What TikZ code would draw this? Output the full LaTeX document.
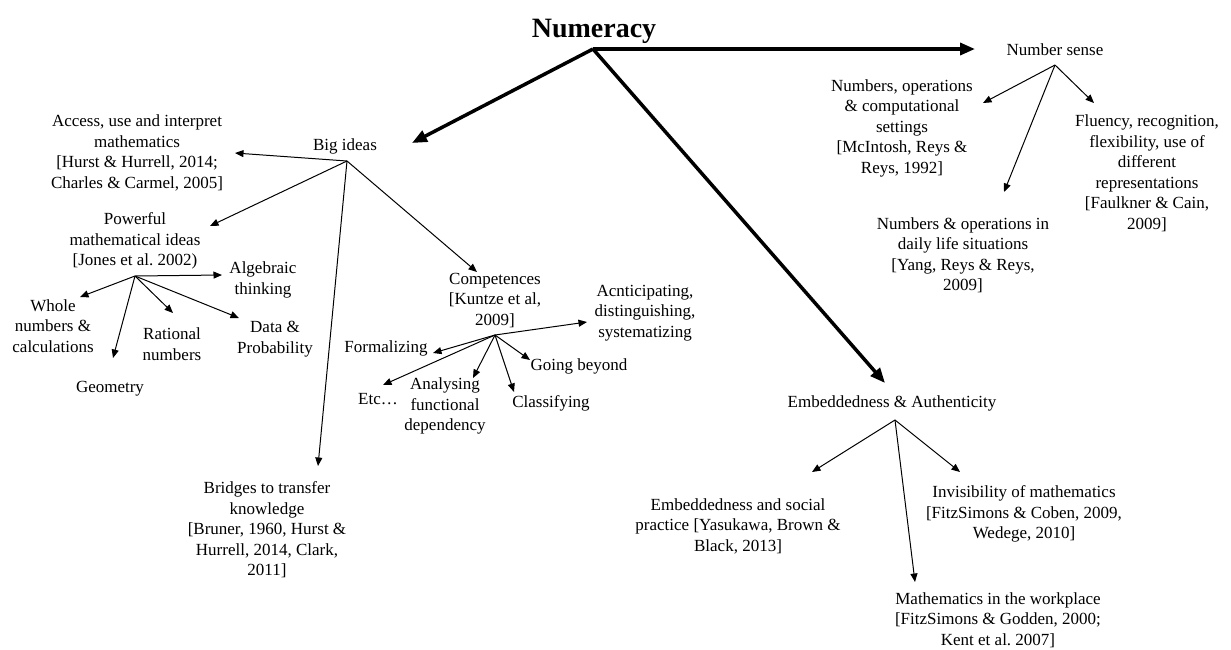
\documentclass[tikz,border=0pt]{standalone}
\usepackage{fontspec}
\setmainfont{Liberation Serif}
\usetikzlibrary{arrows.meta}
\tikzset{
  lbl/.style={font=\fontsize{17}{20.5}\selectfont\frenchspacing, align=center, inner sep=0pt},
  title/.style={font=\fontsize{28}{32}\selectfont\bfseries, inner sep=0pt},
  thinarrow/.style={line width=1pt, -{Triangle[length=8.5pt,width=7pt]}},
  thickarrow/.style={line width=3.5pt, -{Triangle[length=15pt,width=12pt]}}
}
\begin{document}
\begin{tikzpicture}[x=1pt,y=-1pt]
\useasboundingbox (0,0) rectangle (1231,649);
% nodes
\node[title] (numeracy) at (594,31) {Numeracy};
\node[lbl] (bigideas) at (345,146) {Big ideas};
\node[lbl] (access) at (137,153) {Access, use and interpret\\ mathematics\\ {[}Hurst \& Hurrell, 2014;\\ Charles \& Carmel, 2005]};
\node[lbl] (powerful) at (135,241) {Powerful\\ mathematical ideas\\ {[}Jones et al. 2002)};
\node[lbl] (algebraic) at (263,280) {Algebraic\\ thinking};
\node[lbl] (whole) at (53,326) {Whole\\ numbers \&\\ calculations};
\node[lbl] (rational) at (172,344) {Rational\\ numbers};
\node[lbl] (data) at (275,339) {Data \&\\ Probability};
\node[lbl] (geometry) at (110,389) {Geometry};
\node[lbl] (bridges) at (267,530) {Bridges to transfer\\ knowledge\\ {[}Bruner, 1960, Hurst \&\\ Hurrell, 2014, Clark,\\ 2011]};
\node[lbl] (comp) at (495,300) {Competences\\ {[}Kuntze et al,\\ 2009]};
\node[lbl] (antic) at (645,313) {Acnticipating,\\ distinguishing,\\ systematizing};
\node[lbl] (formal) at (386,348) {Formalizing};
\node[lbl] (etc) at (378,399) {Etc…};
\node[lbl] (analys) at (445,406) {Analysing\\ functional\\ dependency};
\node[lbl] (classif) at (551,403) {Classifying};
\node[lbl] (going) at (579,366) {Going beyond};
\node[lbl] (numsense) at (1055,50) {Number sense};
\node[lbl] (nocs) at (902,128) {Numbers, operations\\ \& computational\\ settings\\ {[}McIntosh, Reys \&\\ Reys, 1992]};
\node[lbl] (fluency) at (1147,173) {Fluency, recognition,\\ flexibility, use of\\ different\\ representations\\ {[}Faulkner \& Cain,\\ 2009]};
\node[lbl] (daily) at (963,255) {Numbers \& operations in\\ daily life situations\\ {[}Yang, Reys \& Reys,\\ 2009]};
\node[lbl] (emb) at (892,403) {Embeddedness \& Authenticity};
\node[lbl] (social) at (738,526) {Embeddedness and social\\ practice [Yasukawa, Brown \&\\ Black, 2013]};
\node[lbl] (invis) at (1024,514) {Invisibility of mathematics\\ {[}FitzSimons \& Coben, 2009,\\ Wedege, 2010]};
\node[lbl] (work) at (998,620) {Mathematics in the workplace\\ {[}FitzSimons \& Godden, 2000;\\ Kent et al. 2007]};
% fan origins
\coordinate (o0) at (593,49);
\coordinate (o1) at (347,161);
\coordinate (o2) at (135,276);
\coordinate (o3) at (495,335);
\coordinate (o4) at (1055,65);
\coordinate (o5) at (895,420);
% arrow tips
\coordinate (t-big) at (412,143);
\coordinate (t-ns) at (975,49);
\coordinate (t-emb) at (885,383);
\coordinate (t-access) at (235,153);
\coordinate (t-powerful) at (210,226);
\coordinate (t-bridges) at (318,466);
\coordinate (t-comp) at (477,272);
\coordinate (t-algebraic) at (222,275);
\coordinate (t-whole) at (80,297);
\coordinate (t-rational) at (173,313);
\coordinate (t-data) at (239,318);
\coordinate (t-geometry) at (113,358);
\coordinate (t-antic) at (587,322);
\coordinate (t-formal) at (433,353);
\coordinate (t-etc) at (383,385);
\coordinate (t-analys) at (473,378);
\coordinate (t-classif) at (514,392);
\coordinate (t-going) at (530,360);
\coordinate (t-nocs) at (983,103);
\coordinate (t-daily) at (1004,192);
\coordinate (t-fluency) at (1094,103);
\coordinate (t-social) at (812,472);
\coordinate (t-work) at (915,582);
\coordinate (t-invis) at (960,472);
% thick arrows
\draw[thickarrow] (o0) -- (t-big);
\draw[thickarrow] (o0) -- (t-ns);
\draw[thickarrow] (o0) -- (t-emb);
% thin arrows
\foreach \t in {access,powerful,bridges,comp} \draw[thinarrow] (o1) -- (t-\t);
\foreach \t in {algebraic,whole,rational,data,geometry} \draw[thinarrow] (o2) -- (t-\t);
\foreach \t in {antic,formal,etc,analys,classif,going} \draw[thinarrow] (o3) -- (t-\t);
\foreach \t in {nocs,daily,fluency} \draw[thinarrow] (o4) -- (t-\t);
\foreach \t in {social,work,invis} \draw[thinarrow] (o5) -- (t-\t);
\end{tikzpicture}
\end{document}
